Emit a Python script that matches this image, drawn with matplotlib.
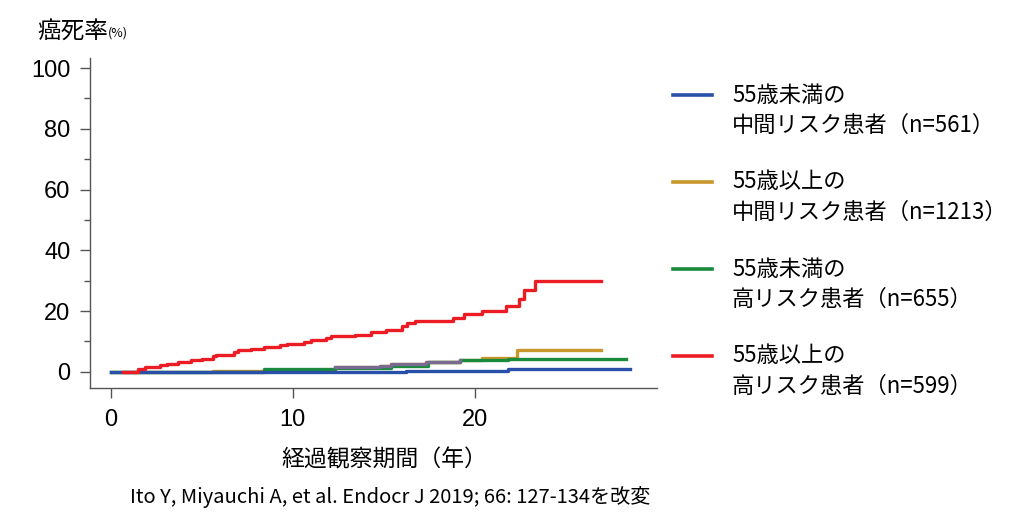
import matplotlib.pyplot as plt
import numpy as np
from matplotlib.lines import Line2D
from matplotlib.ticker import MultipleLocator

plt.rcParams['font.family'] = ['Noto Sans CJK JP', 'DejaVu Sans']

# 経過年数と累積癌死率(%)
blue_t = [0, 16.2, 21.8, 28.5]
blue_y = [0, 0.4, 1.0, 1.0]

gold_t = [0, 5.6, 12.2, 12.3, 14.8, 15.4, 17.3, 19.2, 20.4, 22.3, 26.9]
gold_y = [0, 0.4, 0.9, 1.5, 2.1, 2.6, 3.4, 3.8, 4.5, 7.2, 7.2]

green_t = [0, 8.4, 12.3, 14.9, 15.4, 17.4, 19.2, 20.6, 21.8, 28.3]
green_y = [0, 1.0, 1.2, 1.4, 2.1, 3.4, 3.8, 4.0, 4.4, 4.4]

red_t = [0.7, 1.5, 1.9, 2.7, 3.1, 3.7, 4.4, 5.0, 5.6, 5.8, 6.8, 7.0, 7.7, 8.4,
         9.3, 9.7, 10.6, 11.0, 11.8, 12.1, 13.4, 14.3, 15.1, 16.0, 16.3, 16.7,
         18.8, 19.4, 20.4, 21.7, 22.4, 22.7, 23.3, 26.9]
red_y = [0.0, 1.1, 1.6, 2.2, 2.7, 3.3, 3.8, 4.4, 5.2, 5.7, 6.5, 7.1, 7.6, 8.1,
         8.7, 9.2, 9.9, 10.4, 11.2, 11.7, 12.3, 13.2, 13.7, 15.0, 16.1, 16.7,
         17.8, 18.9, 20.2, 21.8, 24.1, 27.1, 30.0, 30.0]

labels = [('55歳未満の', '中間リスク患者（n=561）'),
          ('55歳以上の', '中間リスク患者（n=1213）'),
          ('55歳未満の', '高リスク患者（n=655）'),
          ('55歳以上の', '高リスク患者（n=599）')]
colors = ['#2850a8', '#c8962a', '#1a8a3c', '#ec1c24']
purple = '#7a6a92'

fig = plt.figure(figsize=(10.24, 5.32), dpi=100)
ax = fig.add_axes([0.0879, 0.2707, 0.5537, 0.6203])

lw = 2.4
ax.step(gold_t, gold_y, where='post', color=colors[1], lw=lw)
ax.step(green_t, green_y, where='post', color=colors[2], lw=lw)
# 重なって紫に見える区間
gt = np.array(gold_t)
gy = np.array(gold_y)
sel = (gt >= 12.3) & (gt <= 19.2)
ax.step(gt[sel], gy[sel], where='post', color=purple, lw=lw)
ax.step(blue_t, blue_y, where='post', color=colors[0], lw=lw)
ax.step(red_t, red_y, where='post', color=colors[3], lw=lw)

ax.set_xlim(-1.13, 30.0)
ax.set_ylim(-5.3, 103.3)
ax.spines['top'].set_visible(False)
ax.spines['right'].set_visible(False)
for s in ['left', 'bottom']:
    ax.spines[s].set_color('#555555')
    ax.spines[s].set_linewidth(1.0)

ax.set_xticks([0, 10, 20])
ax.set_yticks([0, 20, 40, 60, 80, 100])
ax.yaxis.set_minor_locator(MultipleLocator(10))
ax.tick_params(axis='both', which='major', length=7, width=1, color='#555555',
               labelsize=17)
ax.tick_params(axis='y', which='minor', length=4, width=1, color='#555555')
ax.tick_params(axis='x', pad=8)
ax.tick_params(axis='y', pad=7)
for lab in ax.get_xticklabels() + ax.get_yticklabels():
    lab.set_family(['Liberation Sans', 'DejaVu Sans'])

ax.set_xlabel('経過観察期間（年）', fontsize=16.5)
ax.xaxis.set_label_coords(0.52, -0.218)
ax.xaxis.label.set_va('center')

fig.text(0.036, 0.942, '癌死率', fontsize=17, va='center', ha='left')
fig.text(0.105, 0.938, '(%)', fontsize=9, va='center', ha='left')

# 凡例
for i, ((l1, l2), c) in enumerate(zip(labels, colors)):
    y1 = 1 - (95 + i * 87) / 532
    y2 = y1 - 30 / 532
    fig.add_artist(Line2D([673 / 1024, 712 / 1024], [y1, y1], color=c, lw=2.6,
                          transform=fig.transFigure))
    fig.text(732 / 1024, y1, l1, fontsize=16, va='center', ha='left')
    fig.text(732 / 1024, y2, l2, fontsize=16, va='center', ha='left')

fig.text(130 / 1024, 1 - 497 / 532,
         'Ito Y, Miyauchi A, et al. Endocr J 2019; 66: 127-134を改変',
         fontsize=14.5, va='center', ha='left')

fig.savefig('out.png', dpi=100)
